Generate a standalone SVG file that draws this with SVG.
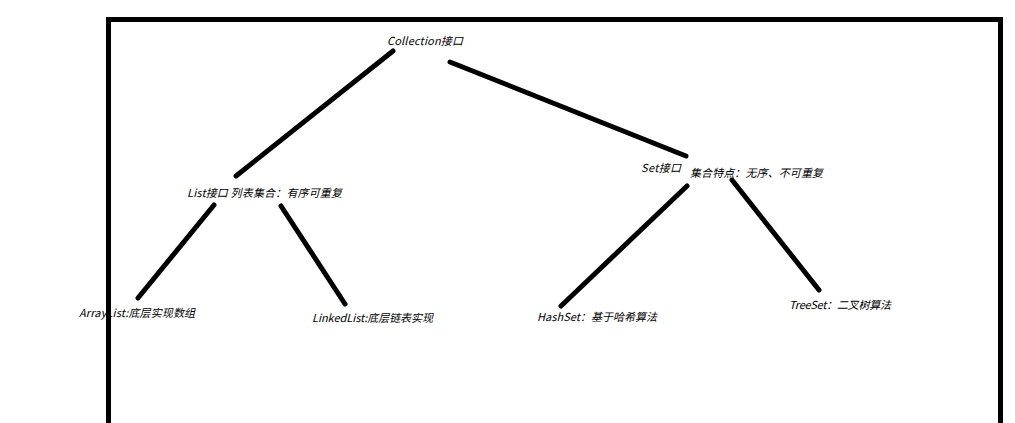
<svg xmlns="http://www.w3.org/2000/svg" width="1015" height="423" viewBox="0 0 1015 423">
<style>
.t{font-family:"Noto Sans CJK SC","Liberation Sans",sans-serif;font-size:11px;font-style:italic;fill:#000}
.c{stroke:#000;stroke-width:5;stroke-linecap:round;fill:none}
.f{stroke:#000;stroke-width:5;fill:none}
</style>
<rect width="1015" height="423" fill="#fff"/>
<path class="f" d="M108.5 423 V19.5 H1000.5 V423"/>
<g id="connectors">
<line class="c" x1="393" y1="51" x2="236" y2="176"/>
<line class="c" x1="450" y1="62" x2="686" y2="156"/>
<line class="c" x1="214" y1="205" x2="138" y2="298"/>
<line class="c" x1="281" y1="206" x2="345" y2="304"/>
<line class="c" x1="687" y1="186" x2="561" y2="306"/>
<line class="c" x1="732" y1="180" x2="819" y2="290"/>
</g>
<g id="collection"><text class="t" x="387" y="45" textLength="76">Collection接口</text></g>
<g id="list"><text class="t" x="187" y="197" textLength="155">List接口 列表集合：有序可重复</text></g>
<g id="set"><text class="t" x="641" y="172" textLength="40">Set接口</text><text class="t" x="690" y="177" textLength="133">集合特点：无序、不可重复</text></g>
<g id="arraylist"><text class="t" x="79" y="317" textLength="116">ArrayList:底层实现数组</text></g>
<g id="linkedlist"><text class="t" x="312" y="322" textLength="121">LinkedList:底层链表实现</text></g>
<g id="hashset"><text class="t" x="537" y="321" textLength="120">HashSet：基于哈希算法</text></g>
<g id="treeset"><text class="t" x="789" y="309" textLength="102">TreeSet：二叉树算法</text></g>
</svg>
